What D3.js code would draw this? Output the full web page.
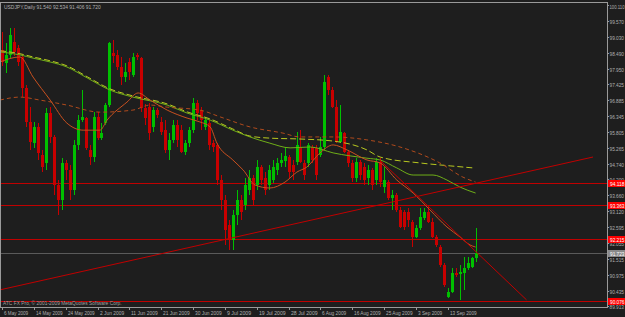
<!DOCTYPE html>
<html><head><meta charset="utf-8">
<script src="https://cdn.jsdelivr.net/npm/d3@7"></script>
<style>html,body{margin:0;padding:0;background:#1e1e1e;overflow:hidden}svg{display:block}</style>
</head><body><svg id="c" width="625" height="317"></svg>
<script>
const symbolTitle = "USDJPY,Daily";
const titleValues = ["91.540", "92.534", "91.406", "91.720"];
const copyright = "ATC FX Pro, \u00A9 2001-2009 MetaQuotes Software Corp.";
const dateLabels = ["6 May 2009","14 May 2009","24 May 2009","2 Jun 2009","11 Jun 2009","21 Jun 2009","30 Jun 2009","9 Jul 2009","19 Jul 2009","28 Jul 2009","6 Aug 2009","16 Aug 2009","25 Aug 2009","3 Sep 2009","13 Sep 2009"];
const dateLabelBars = [0,8,16,24,32,40,48,56,64,72,80,88,96,104,112];
const priceTicks = [100.110,99.570,99.030,98.490,97.950,97.425,96.885,96.345,95.805,95.265,94.740,94.200,93.660,93.120,92.595,92.055,91.515,90.975,90.435,89.913];

const opens  = [98.59,98.14,98.42,98.86,98.65,98.35,97.30,96.15,95.43,95.98,95.03,94.76,96.45,95.64,94.01,93.50,94.76,94.52,93.84,95.37,
96.21,96.28,95.20,94.96,96.32,95.60,96.11,96.72,98.48,98.42,98.01,97.67,98.18,97.74,98.42,98.31,96.62,96.65,95.98,96.55,
96.15,95.87,95.20,95.54,96.04,95.87,95.13,95.43,95.87,96.79,96.55,95.98,96.11,95.43,95.37,94.18,93.50,92.66,92.15,93.00,
93.50,93.33,93.84,94.25,94.01,94.62,94.25,94.01,94.18,94.52,94.76,94.82,94.96,94.69,94.79,95.30,94.76,94.76,95.30,95.27,
95.03,95.30,97.67,97.23,96.65,95.47,95.77,95.13,94.76,94.25,94.79,94.62,94.25,94.52,94.18,94.79,93.94,94.11,93.57,93.67,
93.17,93.10,93.10,92.76,92.25,92.55,92.89,93.10,92.76,92.25,91.91,91.30,90.22,90.39,91.03,90.99,91.03,91.20,91.23,91.54];
const highs  = [99.20,98.82,99.33,99.33,98.75,98.38,97.40,96.65,96.15,96.11,95.20,96.62,96.65,95.70,94.18,94.92,94.86,94.69,95.54,96.38,
97.23,96.32,95.37,96.48,96.48,96.11,96.79,98.86,98.92,98.59,98.35,98.14,98.31,98.48,98.48,98.35,96.76,96.79,96.65,96.62,
96.32,96.21,95.77,96.21,96.21,96.04,95.54,95.98,96.96,96.89,96.65,96.32,96.21,95.54,95.43,94.35,93.67,92.83,93.17,93.84,
93.67,94.25,94.52,94.35,94.86,94.69,94.45,94.69,94.86,94.92,95.10,95.30,95.03,94.86,95.81,95.87,94.86,95.43,95.37,95.37,
95.64,97.74,97.74,97.33,96.89,96.72,95.81,95.20,94.86,94.92,94.86,94.76,94.69,94.59,94.92,94.92,94.62,94.18,93.84,93.74,
93.27,93.17,93.23,92.83,92.66,93.23,93.23,93.27,92.89,92.32,91.98,91.37,90.52,91.20,91.20,91.30,91.57,91.57,91.57,92.55];
const lows   = [98.04,97.81,98.31,98.38,98.04,96.99,95.98,95.20,95.27,94.86,94.45,94.52,95.43,93.67,93.00,93.17,94.18,93.50,93.67,95.20,
96.15,95.20,94.69,94.79,95.54,95.54,96.04,96.65,98.14,97.91,97.40,97.50,97.57,97.67,98.25,96.48,96.04,95.54,95.81,96.28,
95.70,95.10,94.86,95.43,95.30,95.10,95.03,95.30,95.77,96.21,95.87,95.87,95.20,95.13,94.01,93.17,91.98,91.81,91.81,92.66,
92.83,93.17,93.67,93.33,93.84,94.01,93.67,93.84,94.08,94.35,94.62,94.62,94.25,94.18,94.69,94.76,94.18,94.62,94.76,94.18,
94.96,95.20,97.06,96.62,95.43,95.43,95.10,94.62,94.11,94.11,94.18,94.01,94.01,93.84,94.01,93.94,93.74,93.50,93.17,93.10,
92.55,92.49,92.59,91.91,92.21,92.49,92.83,92.72,92.21,91.91,91.23,90.56,90.18,90.35,90.89,90.12,90.46,91.13,91.20,91.40];
const closes = [98.18,98.42,99.09,98.52,98.18,97.30,96.15,95.47,95.98,95.10,94.62,96.45,95.64,94.01,93.50,94.76,94.52,93.84,95.37,96.21,
96.32,95.27,94.96,96.32,95.60,95.77,96.72,98.82,98.38,98.01,97.67,97.84,97.84,98.35,98.35,96.62,96.28,95.77,96.55,96.38,
95.81,95.20,95.54,96.04,95.54,95.13,95.43,95.87,96.79,96.45,96.21,96.21,95.37,95.30,94.18,93.50,92.49,92.15,93.00,93.50,
93.10,94.01,94.25,93.50,94.62,94.18,93.84,94.52,94.62,94.76,94.86,94.99,94.45,94.45,95.37,94.79,94.35,95.37,94.86,94.35,
95.30,97.50,97.23,96.65,95.47,95.81,95.13,94.76,94.25,94.79,94.35,94.18,94.52,94.01,94.79,94.11,94.18,93.57,93.67,93.17,
92.59,92.59,92.83,92.25,92.55,92.93,93.10,92.76,92.25,91.98,91.30,90.62,90.39,91.03,90.96,91.06,91.20,91.37,91.54,91.72];

// moving averages sampled as [bar, price]
const fastMA = [[-0.5,98.18],[4.5,98.35],[7.8,97.67],[12.1,96.89],[16.3,96.11],[20.4,95.87],[24.6,95.87],[26.4,96.21],[31.4,96.82],[34.2,97.13],[37.2,96.89],[41.5,96.55],[46.5,96.28],[49.7,96.15],[52.3,95.98],[54,95.43],[58,94.86],[60.6,94.52],[63.6,94.01],[67.3,93.91],[71.1,94.11],[74.1,94.45],[76.6,94.62],[79.9,95.10],[83.2,95.37],[86.7,95.20],[91.7,94.86],[95,94.76],[99.2,94.18],[103.3,93.74],[107.5,93.17],[111.8,92.59],[115.1,92.25],[117.6,91.98],[119,91.91]];
const slowMA = [[-0.5,96.89],[4.5,96.99],[9.5,96.89],[16.3,96.72],[24.6,96.48],[32.9,96.55],[37.2,96.72],[41.5,96.65],[49.7,96.55],[54.8,96.32],[62.3,95.98],[70.6,95.77],[74.9,95.64],[83.2,95.64],[91.7,95.54],[100,95.30],[110,94.76],[115.8,94.28],[119,94.11]];
const greenMA = [[-0.5,98.52],[4.5,98.42],[7.8,98.31],[12.1,98.18],[16.3,98.01],[21.4,97.64],[27.1,97.23],[32.9,96.99],[41.5,96.72],[46.5,96.45],[52.3,96.21],[58,95.87],[62.3,95.64],[67.3,95.43],[72.4,95.27],[77.4,95.30],[83.2,95.10],[91.7,94.92],[95,94.86],[99.2,94.59],[103.3,94.35],[108.3,94.35],[111.8,94.18],[115.1,93.94],[119,93.74]];
const yellowMA = [[-0.5,98.56],[4.5,98.46],[7.8,98.35],[12.1,98.22],[16.3,98.05],[21.4,97.68],[27.1,97.27],[32.9,97.03],[41.5,96.76],[46.5,96.49],[52.3,96.25],[58,95.91],[62.3,95.67],[67.3,95.60],[74.9,95.57],[83.2,95.50],[91.7,95.20],[95,94.96],[105,94.76],[112.6,94.66],[118.5,94.59]];
const trendUp = [[-0.5,90.46],[148.5,94.96]];
const trendDown = [[94.9,94.86],[131.8,90.12]];
const hLevels = [94.078, 93.333, 92.185, 90.076];
const hLabels = ["94.118", "93.363", "92.215", "90.076"];
const bidPrice = 91.723;
const bidLabel = "91.723";

const svg = d3.select("#c");
const W = 625, H = 317;
const plotRight = 607, plotBottom = 307, plotTop = 2;
const x = d3.scaleLinear().domain([0, 119]).range([2, 475.6]);
const y = d3.scaleLinear().domain([89.913, 100.110]).range([306, 5]);
const font = "'Liberation Sans',Arial,sans-serif";
const FS = 5.4, CW = 2.42; // font size, target px per character

function fitText(sel, str, w) {
  sel.text(str).attr("textLength", w || str.length * CW).attr("lengthAdjust", "spacingAndGlyphs");
  return sel;
}

svg.append("rect").attr("width", W).attr("height", H).attr("fill", "#1e1e1e");

svg.append("defs").append("clipPath").attr("id", "pc")
  .append("rect").attr("x", 0).attr("y", plotTop).attr("width", plotRight).attr("height", plotBottom - plotTop);

const plot = svg.append("g").attr("clip-path", "url(#pc)");

// horizontal levels
plot.selectAll("line.hl").data(hLevels).enter().append("line")
  .attr("x1", 0).attr("x2", plotRight)
  .attr("y1", d => Math.round(y(d)) + 0.5).attr("y2", d => Math.round(y(d)) + 0.5)
  .attr("stroke", "#c00000").attr("stroke-width", 1);
plot.append("line").attr("x1", 0).attr("x2", plotRight)
  .attr("y1", Math.round(y(bidPrice)) + 0.5).attr("y2", Math.round(y(bidPrice)) + 0.5)
  .attr("stroke", "#5a5a5a").attr("stroke-width", 1);

// candles
const idx = d3.range(opens.length);
const cg = plot.append("g").attr("shape-rendering", "crispEdges");
cg.selectAll("line.w").data(idx).enter().append("line")
  .attr("x1", i => Math.round(x(i)) + 0.5).attr("x2", i => Math.round(x(i)) + 0.5)
  .attr("y1", i => y(highs[i])).attr("y2", i => y(lows[i]))
  .attr("stroke", i => closes[i] >= opens[i] ? "#00c000" : "#c80000");
cg.selectAll("rect.b").data(idx).enter().append("rect")
  .attr("x", i => Math.round(x(i)) - 1).attr("width", 3)
  .attr("y", i => y(Math.max(opens[i], closes[i])))
  .attr("height", i => Math.max(1, Math.abs(y(opens[i]) - y(closes[i]))))
  .attr("fill", i => closes[i] >= opens[i] ? "#00c000" : "#c80000");

// MAs
const ln = d3.line().x(d => x(d[0])).y(d => y(d[1])).curve(d3.curveMonotoneX);
plot.append("path").attr("d", ln(greenMA)).attr("fill", "none").attr("stroke", "#6fae18").attr("stroke-width", 1);
plot.append("path").attr("d", ln(yellowMA)).attr("fill", "none").attr("stroke", "#b8c820").attr("stroke-width", 1).attr("stroke-dasharray", "6,3");
plot.append("path").attr("d", ln(slowMA)).attr("fill", "none").attr("stroke", "#b04a1c").attr("stroke-width", 1).attr("stroke-dasharray", "4,3");
plot.append("path").attr("d", ln(fastMA)).attr("fill", "none").attr("stroke", "#c8501e").attr("stroke-width", 1);

// trendlines
const lin = d3.line().x(d => x(d[0])).y(d => y(d[1]));
plot.append("path").attr("d", lin(trendUp)).attr("stroke", "#c00000").attr("fill", "none");
plot.append("path").attr("d", lin(trendDown)).attr("stroke", "#c00000").attr("fill", "none");

// frame
svg.append("rect").attr("x", 0.5).attr("y", plotTop + 0.5).attr("width", plotRight).attr("height", plotBottom - plotTop)
  .attr("fill", "none").attr("stroke", "#9a9a9a").attr("shape-rendering", "crispEdges");

// price axis
const ax = svg.append("g").attr("font-family", font).attr("font-size", FS).attr("fill", "#b0b0b0");
priceTicks.forEach(v => {
  const yy = Math.round(y(v)) + 0.5;
  ax.append("line").attr("x1", plotRight).attr("x2", plotRight + 2).attr("y1", yy).attr("y2", yy).attr("stroke", "#9a9a9a");
  const s = v.toFixed(3);
  fitText(ax.append("text").attr("x", plotRight + 2.5).attr("y", Math.max(9, yy + 2)), s, Math.min(15, s.length * CW));
});
// level labels
hLevels.forEach((v, i) => {
  const yy = Math.round(y(v)) + 0.5;
  ax.append("rect").attr("x", plotRight + 1).attr("y", yy - 3.5).attr("width", 18).attr("height", 7).attr("fill", "#ff0000");
  fitText(ax.append("text").attr("x", plotRight + 3).attr("y", yy + 2).attr("fill", "#ffffff"), hLabels[i]);
});
{
  const yy = Math.round(y(bidPrice)) + 0.5;
  ax.append("rect").attr("x", plotRight + 1).attr("y", yy - 3.5).attr("width", 18).attr("height", 7).attr("fill", "#8a8a8a");
  fitText(ax.append("text").attr("x", plotRight + 3).attr("y", yy + 2).attr("fill", "#ffffff"), bidLabel);
}

// time axis
const tx = svg.append("g").attr("font-family", font).attr("font-size", FS).attr("fill", "#b0b0b0");
dateLabels.forEach((t, i) => {
  const xx = Math.round(x(dateLabelBars[i])) + 0.5;
  tx.append("line").attr("x1", xx).attr("x2", xx).attr("y1", plotBottom).attr("y2", plotBottom + 3).attr("stroke", "#9a9a9a");
  fitText(tx.append("text").attr("x", xx + 1.5).attr("y", 314.5), t);
});

// title & copyright
fitText(svg.append("text").attr("x", 4).attr("y", 9).attr("font-family", font).attr("font-size", FS).attr("fill", "#b0b0b0"),
  symbolTitle + " " + titleValues.join(" "));
fitText(svg.append("text").attr("x", 3).attr("y", 305).attr("font-family", font).attr("font-size", FS).attr("fill", "#a0a0a0"),
  copyright);
</script></body></html>
